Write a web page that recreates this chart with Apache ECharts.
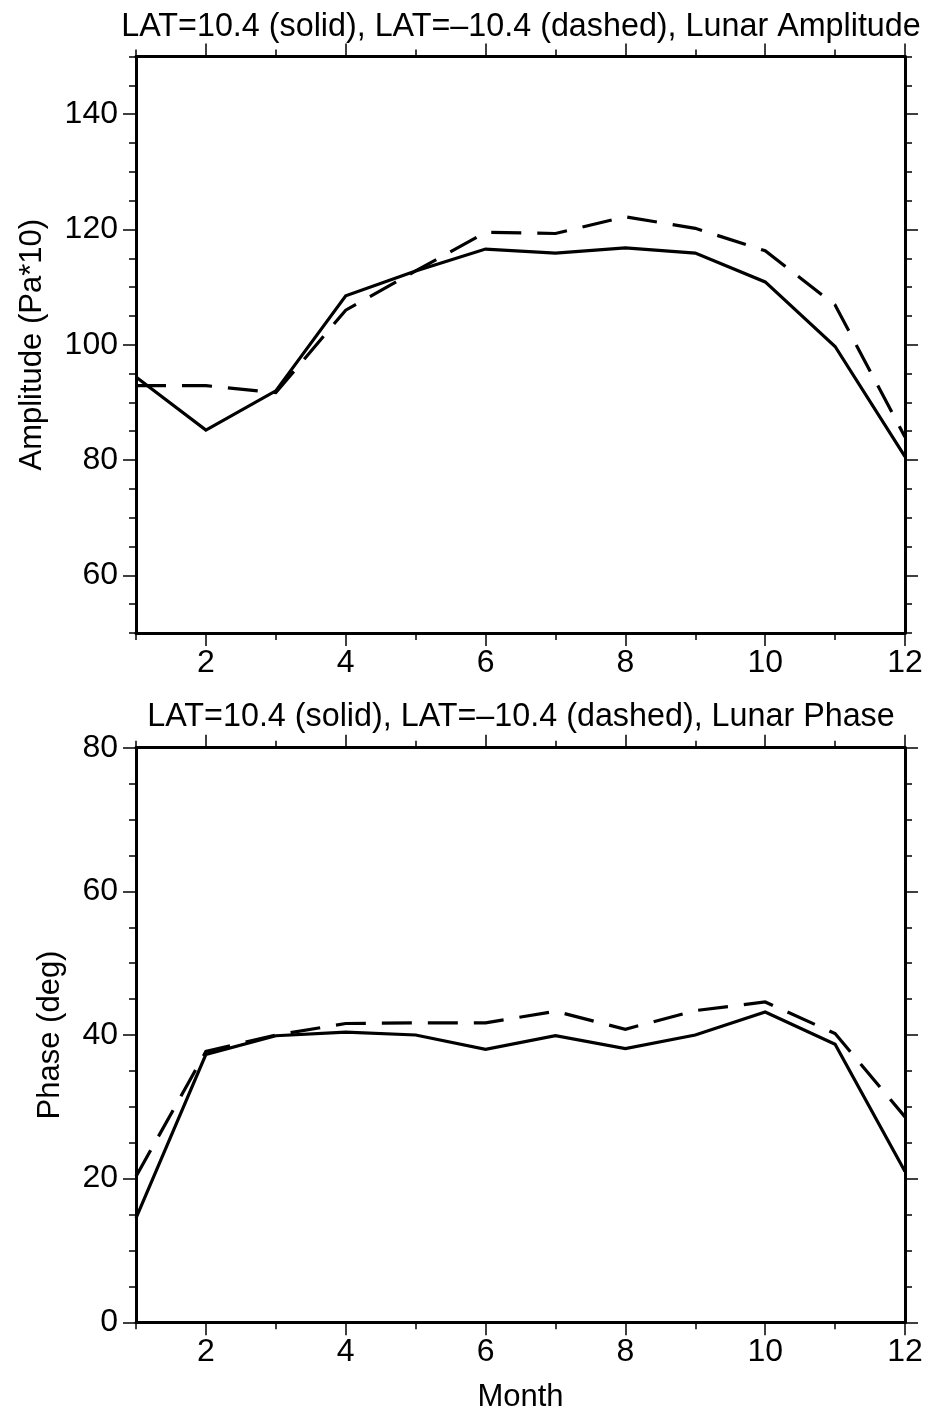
<!DOCTYPE html>
<html>
<head>
<meta charset="utf-8">
<script src="https://cdn.jsdelivr.net/npm/echarts@6/dist/echarts.min.js"></script>
<style>
html,body{margin:0;padding:0;background:#fff;}
#chart{width:928px;height:1416px;}
</style>
</head>
<body>
<div id="chart"></div>
<script>
const months = [1, 2, 3, 4, 5, 6, 7, 8, 9, 10, 11, 12];
const ampSolid  = [94.4, 85.2, 92.0, 108.5, 112.8, 116.6, 115.9, 116.8, 115.9, 110.9, 99.7, 80.6];
const ampDashed = [92.9, 92.9, 91.7, 106.0, 112.8, 119.5, 119.3, 122.2, 120.2, 116.3, 106.9, 84.0];
const phaseSolid  = [14.5, 37.3, 39.9, 40.4, 40.0, 38.0, 39.9, 38.1, 40.0, 43.2, 38.7, 21.0];
const phaseDashed = [20.3, 37.7, 40.0, 41.6, 41.7, 41.7, 43.3, 40.8, 43.4, 44.6, 40.2, 28.6];
const monthLabels = [2, 4, 6, 8, 10, 12];
const ampLabels = [60, 80, 100, 120, 140];
const phaseLabels = [0, 20, 40, 60, 80];
const titles = [
  'LAT=10.4 (solid), LAT=\u201310.4 (dashed), Lunar Amplitude',
  'LAT=10.4 (solid), LAT=\u201310.4 (dashed), Lunar Phase'
];
const yNames = ['Amplitude (Pa*10)', 'Phase (deg)'];
const xName = 'Month';

const FONT = '"Liberation Sans", Arial, Helvetica, sans-serif';
const black = '#000';

const grids = [
  {left: 136, right: 23, top: 56.5, height: 576.5},
  {left: 136, right: 23, top: 747.7, height: 574.6}
];
const yRanges = [[50, 150], [0, 80]];
const yMajor = [ampLabels, phaseLabels];

const xAxes = [];
const yAxes = [];
grids.forEach((g, gi) => {
  ['bottom', 'top'].forEach(pos => {
    xAxes.push({
      type: 'value', gridIndex: gi, position: pos, min: 1, max: 12, interval: 1,
      axisLine: {show: true, onZero: false, lineStyle: {color: black, width: 3}},
      axisTick: {show: true, length: 7, lineStyle: {color: black, width: 1.5}},
      axisLabel: {show: false}, splitLine: {show: false}
    });
    const showLab = pos === 'bottom';
    xAxes.push({
      type: 'value', gridIndex: gi, position: pos, min: 1, max: 12,
      axisLine: {show: false, onZero: false},
      axisTick: {show: true, length: 13, customValues: monthLabels, lineStyle: {color: black, width: 1.5}},
      axisLabel: {show: showLab, customValues: monthLabels, margin: 14, color: black, fontSize: 32, fontFamily: FONT},
      splitLine: {show: false},
      name: (showLab && gi === 1) ? xName : '',
      nameLocation: 'middle', nameGap: 60,
      nameTextStyle: {color: black, fontSize: 31, fontFamily: FONT}
    });
  });
  ['left', 'right'].forEach(pos => {
    yAxes.push({
      type: 'value', gridIndex: gi, position: pos, min: yRanges[gi][0], max: yRanges[gi][1], interval: 5,
      axisLine: {show: true, onZero: false, lineStyle: {color: black, width: 3}},
      axisTick: {show: true, length: 7, lineStyle: {color: black, width: 1.5}},
      axisLabel: {show: false}, splitLine: {show: false}
    });
    const showLab = pos === 'left';
    yAxes.push({
      type: 'value', gridIndex: gi, position: pos, min: yRanges[gi][0], max: yRanges[gi][1],
      axisLine: {show: false, onZero: false},
      axisTick: {show: true, length: 13, customValues: yMajor[gi], lineStyle: {color: black, width: 1.5}},
      axisLabel: {show: showLab, customValues: yMajor[gi], margin: 18, color: black, fontSize: 32, fontFamily: FONT},
      splitLine: {show: false},
      name: showLab ? yNames[gi] : '',
      nameLocation: 'middle', nameGap: gi === 0 ? 88 : 70,
      nameTextStyle: {color: black, fontSize: 31, fontFamily: FONT}
    });
  });
});

function pairs(arr) { return months.map((m, i) => [m, arr[i]]); }
function line(data, gi, dashed) {
  return {
    type: 'line', xAxisIndex: gi * 4, yAxisIndex: gi * 4, data: pairs(data),
    symbol: 'none', silent: true, animation: false,
    lineStyle: {color: black, width: 3.2, type: dashed ? [30, 16] : 'solid', cap: 'butt', join: 'miter'}
  };
}

const option = {
  backgroundColor: '#fff',
  animation: false,
  title: [
    {text: titles[0], left: 516, top: 6, textAlign: 'center',
     textStyle: {color: black, fontSize: 32.3, fontWeight: 'normal', fontFamily: FONT}},
    {text: titles[1], left: 516, top: 696, textAlign: 'center',
     textStyle: {color: black, fontSize: 32.3, fontWeight: 'normal', fontFamily: FONT}}
  ],
  grid: grids,
  xAxis: xAxes,
  yAxis: yAxes,
  series: [
    line(ampSolid, 0, false),
    line(ampDashed, 0, true),
    line(phaseSolid, 1, false),
    line(phaseDashed, 1, true)
  ]
};
const chart = echarts.init(document.getElementById('chart'), null, {renderer: 'canvas'});
chart.setOption(option);
</script>
</body>
</html>
